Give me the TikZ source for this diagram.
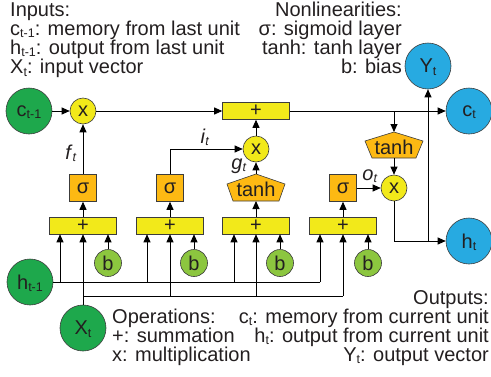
\documentclass[tikz,border=0pt]{standalone}
\usepackage{fontspec}
\setmainfont{Liberation Sans}
\usetikzlibrary{arrows.meta}
\definecolor{ygate}{RGB}{242,233,26}
\definecolor{ogate}{RGB}{253,185,19}
\definecolor{dgreen}{RGB}{30,168,76}
\definecolor{lgreen}{RGB}{140,198,63}
\definecolor{bluec}{RGB}{39,170,225}
\definecolor{outl}{RGB}{60,60,60}
\definecolor{txt}{RGB}{35,31,32}
\newcommand\sbs[1]{\raisebox{-0.13em}[0pt][0pt]{\fontsize{12.5}{12.5}\selectfont #1}}
\begin{document}
\begin{tikzpicture}[x=1pt,y=-1pt,
  every node/.style={font=\fontsize{20}{19}\selectfont, text=txt},
  conn/.style={draw=black, line width=0.9pt, -{Triangle[length=8pt,width=7pt]}},
  wire/.style={draw=black, line width=0.9pt},
  circ/.style={circle, draw=outl, line width=0.6pt, inner sep=0pt},
  bigg/.style={circ, minimum size=46pt, fill=dgreen},
  bigb/.style={circ, minimum size=46pt, fill=bluec},
  mult/.style={circ, minimum size=26pt, fill=ygate},
  bias/.style={circ, minimum size=27pt, fill=lgreen},
  sumbox/.style={rectangle, draw=outl, line width=0.6pt, fill=ygate, minimum width=67pt, minimum height=17pt, inner sep=0pt},
  sigbox/.style={rectangle, draw=outl, line width=0.6pt, fill=ogate, minimum width=27pt, minimum height=27pt, inner sep=0pt},
  pent/.style={draw=outl, line width=0.6pt, fill=ogate},
  lbl/.style={inner sep=0pt},
  tl/.style={anchor=base west, inner sep=0pt},
  tr/.style={anchor=base east, inner sep=0pt}]
\useasboundingbox (0,0) rectangle (491,376);

% texts
\node[tl] (in1) at (10,16) {Inputs:};
\node[tl] (in2) at (10,35) {c\sbs{t-1}: memory from last unit};
\node[tl] (in3) at (10,54) {h\sbs{t-1}: output from last unit};
\node[tl] (in4) at (10,73.5) {X\sbs{t}: input vector};
\node[tr] (nl1) at (402,16) {Nonlinearities:};
\node[tr] (nl2) at (402,35) {σ: sigmoid layer};
\node[tr] (nl3) at (402,54) {tanh: tanh layer};
\node[tr] (nl4) at (402,73.5) {b: bias};
\node[tl] (op1) at (112,323) {Operations:};
\node[tl] (op2) at (112,342) {+: summation};
\node[tl] (op3) at (112,361) {x: multiplication};
\node[tr] (ou1) at (489,304) {Outputs:};
\node[tr] (ou2) at (489,323) {c\sbs{t}: memory from current unit};
\node[tr] (ou3) at (489,342) {h\sbs{t}: output from current unit};
\node[tr] (ou4) at (489,361) {Y\sbs{t}: output vector};

% big circles
\node[bigg] (ctm1) at (29,111) {c\sbs{t-1}};
\node[bigg] (hm1) at (30,282) {h\sbs{t-1}};
\node[bigg] (Xt) at (83,328) {X\sbs{t}};
\node[bigb] (Yt) at (428,66) {Y\sbs{t}};
\node[bigb] (ct) at (469,111) {c\sbs{t}};
\node[bigb] (ht) at (469,241) {h\sbs{t}};

% multipliers and top sum
\node[mult] (x1) at (83,111) {x};
\node[sumbox] (ptop) at (256,111) {+};
\node[mult] (xm) at (256,149) {x};
\node[mult] (xo) at (394,188) {x};

% gate sums
\node[sumbox] (boxA) at (83,225.5) {+};
\node[sumbox] (boxB) at (170,225.5) {+};
\node[sumbox] (boxC) at (256,225.5) {+};
\node[sumbox] (boxD) at (343,225.5) {+};

% sigma boxes
\node[sigbox] (sA) at (83,188) {σ};
\node[sigbox] (sB) at (170,188) {σ};
\node[sigbox] (sD) at (343,188) {σ};

% tanh pentagons
\draw[pent, shift={(256,187)}] (0,-13) -- (29,-3) -- (23,14) -- (-23,14) -- (-29,-3) -- cycle;
\node[lbl] (t1) at (256,189) {tanh};
\coordinate (t1top) at (256,174);
\coordinate (t1bot) at (256,201);
\draw[pent, shift={(394,145)}] (0,-13) -- (29,-4) -- (22,13) -- (-22,13) -- (-29,-4) -- cycle;
\node[lbl] (t2) at (394,147) {tanh};
\coordinate (t2top) at (394,132);
\coordinate (t2bot) at (394,158);

% biases
\node[bias] (bA) at (108,263) {b};
\node[bias] (bB) at (194,263) {b};
\node[bias] (bC) at (280,263) {b};
\node[bias] (bD) at (368,263) {b};

% gate labels
\node[lbl] (lf) at (71,152) {\textit{f}\sbs{\textit{t}}};
\node[lbl] (li) at (205,136) {\textit{i}\sbs{\textit{t}}};
\node[lbl] (lg) at (239,166) {\textit{g}\sbs{\textit{t}}};
\node[lbl] (lo) at (370,175) {\textit{o}\sbs{\textit{t}}};

% top connectors
\draw[conn] (ctm1) -- (x1);
\draw[conn] (x1) -- (ptop);
\draw[conn] (ptop) -- (ct);
\coordinate (cdown) at (394,111);
\draw[conn] (cdown) -- (t2top);
\draw[conn] (t2bot) -- (xo);
\draw[conn] (sD) -- (xo);
\draw[conn] (xo.south) |- (ht);
\coordinate (yj) at (428,241);
\draw[conn] (yj) -- (Yt.south);
\draw[conn] (sA) -- (x1);
\draw[conn] (sB.north) |- (xm);
\draw[conn] (t1top) -- (xm);
\draw[conn] (xm) -- (ptop);

% gate outputs
\draw[conn] (boxA) -- (sA);
\draw[conn] (boxB) -- (sB);
\draw[conn] (boxC.north) -- (t1bot);
\draw[conn] (boxD) -- (sD);

% h_{t-1} bus
\coordinate (hA) at (60,282);
\coordinate (hB) at (147,282);
\coordinate (hC) at (234,282);
\coordinate (hD) at (320,282);
\draw[wire] (hm1.east) -- (hD);
\draw[conn] (hA) -- (hA |- boxA.south);
\draw[conn] (hB) -- (hB |- boxB.south);
\draw[conn] (hC) -- (hC |- boxC.south);
\draw[conn] (hD) -- (hD |- boxD.south);

% X_t bus
\coordinate (xA) at (83,296);
\coordinate (xB) at (170,296);
\coordinate (xC) at (256,296);
\coordinate (xD) at (343,296);
\draw[conn] (Xt.north) -- (boxA.south);
\draw[wire] (xA) -- (xD);
\draw[conn] (xB) -- (xB |- boxB.south);
\draw[conn] (xC) -- (xC |- boxC.south);
\draw[conn] (xD) -- (xD |- boxD.south);

% biases
\draw[conn] (bA.north) -- (bA.north |- boxA.south);
\draw[conn] (bB.north) -- (bB.north |- boxB.south);
\draw[conn] (bC.north) -- (bC.north |- boxC.south);
\draw[conn] (bD.north) -- (bD.north |- boxD.south);
\end{tikzpicture}
\end{document}
